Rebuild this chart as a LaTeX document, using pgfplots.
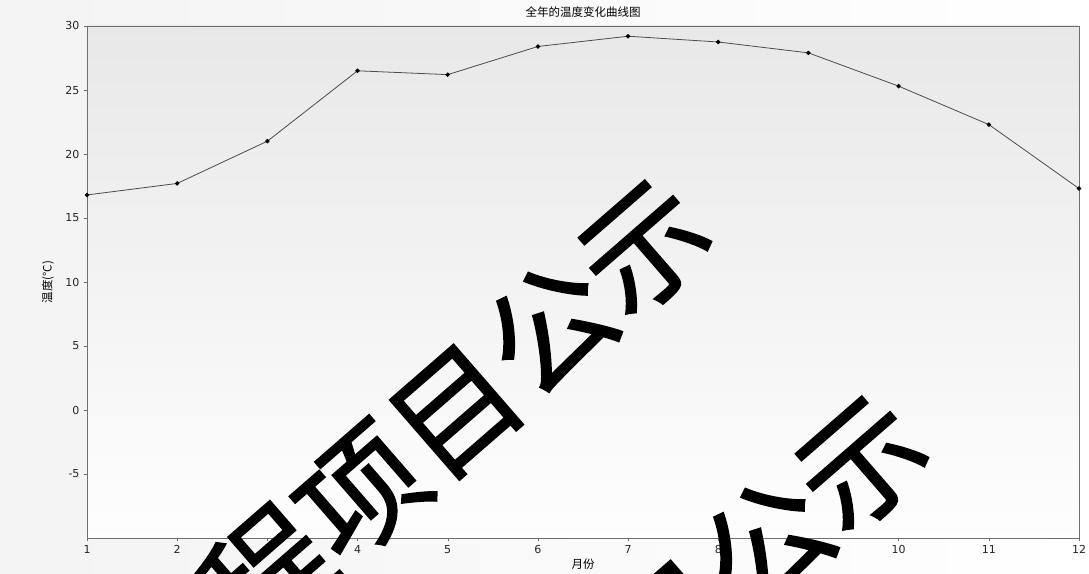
\documentclass[border=0pt]{standalone}
\usepackage{pgfplots}
\pgfplotsset{compat=1.18}
\usepackage{fontspec}
\setmainfont{DejaVu Sans}
\newfontfamily\cjk{Noto Sans CJK SC}
\newfontfamily\cjkw[FakeBold=1.2]{Noto Sans CJK SC}
\definecolor{lineg}{RGB}{75,75,75}
\definecolor{axg}{RGB}{110,110,110}
\begin{document}
\begin{tikzpicture}
\fill[left color=gray!9, right color=white] (-87pt,-35pt) rectangle (1002pt,538pt);
\path[use as bounding box] (-87pt,-35pt) rectangle (1002pt,538pt);
\begin{axis}[
  scale only axis, width=992pt, height=512pt,
  xmin=1, xmax=12, ymin=-10, ymax=30,
  xtick={1,...,12}, ytick={-5,0,...,30},
  xtick pos=bottom, ytick pos=left,
  tick align=outside, major tick length=3pt,
  tick style={axg, thin},
  axis line style={axg, line width=0.9pt},
  axis background/.style={top color=gray!18, bottom color=gray!1},
  /pgf/number format/assume math mode=true,
  ticklabel style={font=\fontsize{11}{11}\selectfont, text=black!85},
  xticklabel style={yshift=-1pt},
  yticklabel style={xshift=-1pt},
  title={\cjk 全年的温度变化曲线图},
  title style={font=\fontsize{11.5}{12}\selectfont, inner sep=0pt, yshift=2pt},
  xlabel={\cjk 月份},
  xlabel style={font=\fontsize{11.5}{12}\selectfont, inner sep=0pt, yshift=-1pt},
  ylabel={\cjk 温度(°C)},
  ylabel style={font=\fontsize{11.5}{12}\selectfont, inner sep=0pt, yshift=8pt},
]
\addplot[color=lineg, line width=0.8pt, mark=*, mark size=1.8pt,
  mark options={fill=black, draw=black}] coordinates {
  (1,16.8) (2,17.7) (3,21.0) (4,26.5) (5,26.2) (6,28.4)
  (7,29.2) (8,28.75) (9,27.9) (10,25.3) (11,22.3) (12,17.3)
};
\end{axis}
\begin{scope}
\clip (-87pt,-35pt) rectangle (1002pt,538pt);
\node[rotate=41, inner sep=0pt, font=\cjkw\fontsize{125}{125}\selectfont] at (368pt,128pt) {程项目公示};
\node[rotate=41, inner sep=0pt, font=\cjkw\fontsize{125}{125}\selectfont] at (585pt,-88pt) {程项目公示};
\end{scope}
\end{tikzpicture}
\end{document}
